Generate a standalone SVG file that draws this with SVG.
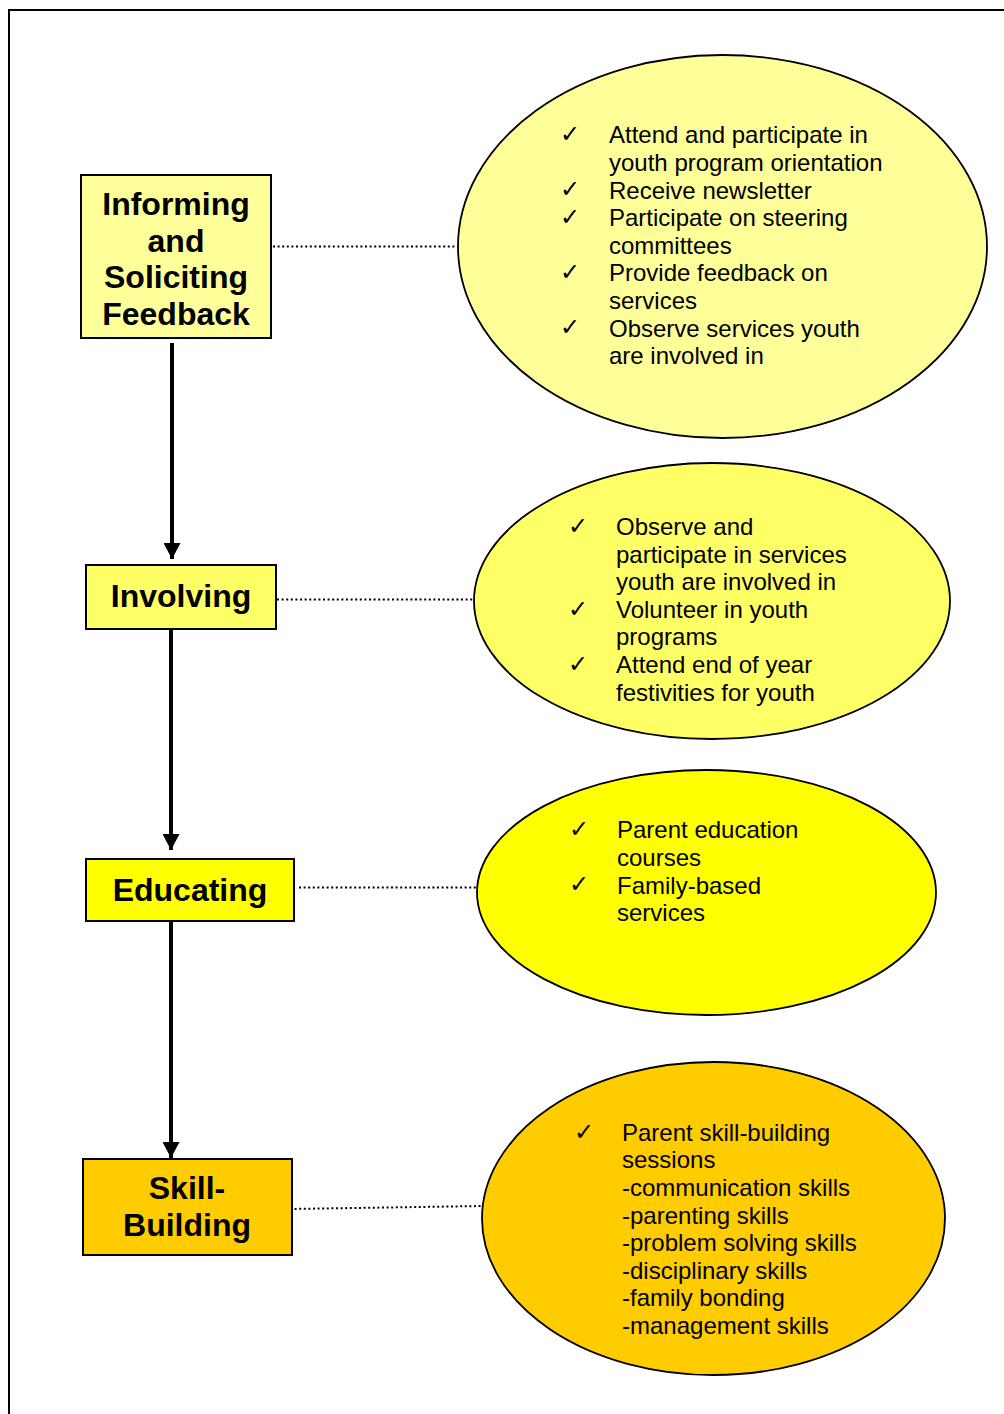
<svg xmlns="http://www.w3.org/2000/svg" width="1004" height="1414" viewBox="0 0 1004 1414">
<style>
.box{stroke:#000;stroke-width:2}
.ell{stroke:#000;stroke-width:1.8}
.title{font-family:"Liberation Sans",Arial,sans-serif;font-weight:bold;font-size:32px;text-anchor:middle;fill:#000}
.txt{font-family:"Liberation Sans",Arial,sans-serif;font-size:24px;fill:#000}
.chk{font-family:"DejaVu Sans",sans-serif;font-size:24px;fill:#000}
.dot{stroke:#000;stroke-width:2;stroke-dasharray:2 2.6;fill:none}
.arr{stroke:#000;stroke-width:4;fill:none;marker-end:url(#ah)}
</style>
<defs>
<marker id="ah" markerUnits="userSpaceOnUse" viewBox="0 0 16 17" refX="16" refY="8.5" markerWidth="16" markerHeight="17" orient="auto">
<path d="M0,0 L16,8.5 L0,17 z" fill="#000"/>
</marker>
</defs>
<rect width="1004" height="1414" fill="#fff"/>
<g id="frame">
<polyline points="9,1414 9,10 1004,10" fill="none" stroke="#000" stroke-width="2"/>
</g>
<g id="connectors">
<line class="arr" x1="172" y1="343" x2="172" y2="559"/>
<line class="arr" x1="171" y1="630" x2="171" y2="850"/>
<line class="arr" x1="171" y1="921" x2="171" y2="1158"/>
<line class="dot" x1="273" y1="246.5" x2="458" y2="246.5"/>
<line class="dot" x1="277" y1="599.5" x2="474" y2="599.5"/>
<line class="dot" x1="299" y1="887.5" x2="477" y2="887.5"/>
<line class="dot" x1="290" y1="1209" x2="482" y2="1206"/>
</g>
<g id="node-informing">
<rect class="box" x="81" y="175" width="190" height="163" fill="#FFFF99"/>
<text class="title" x="176" y="215">Informing</text>
<text class="title" x="176" y="252">and</text>
<text class="title" x="176" y="288">Soliciting</text>
<text class="title" x="176" y="325">Feedback</text>
</g>
<g id="node-involving">
<rect class="box" x="86" y="565" width="190" height="64" fill="#FFFF66"/>
<text class="title" x="181" y="607">Involving</text>
</g>
<g id="node-educating">
<rect class="box" x="86" y="859" width="208" height="62" fill="#FFFF00"/>
<text class="title" x="190" y="901">Educating</text>
</g>
<g id="node-skill">
<rect class="box" x="83" y="1159" width="209" height="96" fill="#FFCC00"/>
<text class="title" x="187" y="1199">Skill-</text>
<text class="title" x="187" y="1236">Building</text>
</g>
<g id="node-ellipse-informing">
<ellipse class="ell" cx="722.5" cy="246.5" rx="264.5" ry="191.5" fill="#FFFF99"/>
<text class="chk" x="560" y="142">✓</text>
<text class="txt" x="609" y="143.3">Attend and participate in</text>
<text class="txt" x="609" y="170.9">youth program orientation</text>
<text class="chk" x="560" y="197">✓</text>
<text class="txt" x="609" y="198.5">Receive newsletter</text>
<text class="chk" x="560" y="225">✓</text>
<text class="txt" x="609" y="226.1">Participate on steering</text>
<text class="txt" x="609" y="253.7">committees</text>
<text class="chk" x="560" y="280">✓</text>
<text class="txt" x="609" y="281.3">Provide feedback on</text>
<text class="txt" x="609" y="308.9">services</text>
<text class="chk" x="560" y="335">✓</text>
<text class="txt" x="609" y="336.5">Observe services youth</text>
<text class="txt" x="609" y="364.1">are involved in</text>
</g>
<g id="node-ellipse-involving">
<ellipse class="ell" cx="712" cy="601" rx="238" ry="138" fill="#FFFF66"/>
<text class="chk" x="568" y="534">✓</text>
<text class="txt" x="616" y="535">Observe and</text>
<text class="txt" x="616" y="562.6">participate in services</text>
<text class="txt" x="616" y="590.2">youth are involved in</text>
<text class="chk" x="568" y="617">✓</text>
<text class="txt" x="616" y="617.8">Volunteer in youth</text>
<text class="txt" x="616" y="645.4">programs</text>
<text class="chk" x="568" y="672">✓</text>
<text class="txt" x="616" y="673">Attend end of year</text>
<text class="txt" x="616" y="700.6">festivities for youth</text>
</g>
<g id="node-ellipse-educating">
<ellipse class="ell" cx="706.5" cy="892.5" rx="229.5" ry="122.5" fill="#FFFF00"/>
<text class="chk" x="569" y="837">✓</text>
<text class="txt" x="617" y="838.3">Parent education</text>
<text class="txt" x="617" y="865.9">courses</text>
<text class="chk" x="569" y="892">✓</text>
<text class="txt" x="617" y="893.5">Family-based</text>
<text class="txt" x="617" y="921.1">services</text>
</g>
<g id="node-ellipse-skill">
<ellipse class="ell" cx="713.5" cy="1218.5" rx="231.5" ry="156.5" fill="#FFCC00"/>
<text class="chk" x="574" y="1140">✓</text>
<text class="txt" x="622" y="1140.7">Parent skill-building</text>
<text class="txt" x="622" y="1168.3">sessions</text>
<text class="txt" x="622" y="1195.9">-communication skills</text>
<text class="txt" x="622" y="1223.5">-parenting skills</text>
<text class="txt" x="622" y="1251.1">-problem solving skills</text>
<text class="txt" x="622" y="1278.7">-disciplinary skills</text>
<text class="txt" x="622" y="1306.3">-family bonding</text>
<text class="txt" x="622" y="1333.9">-management skills</text>
</g>
</svg>
